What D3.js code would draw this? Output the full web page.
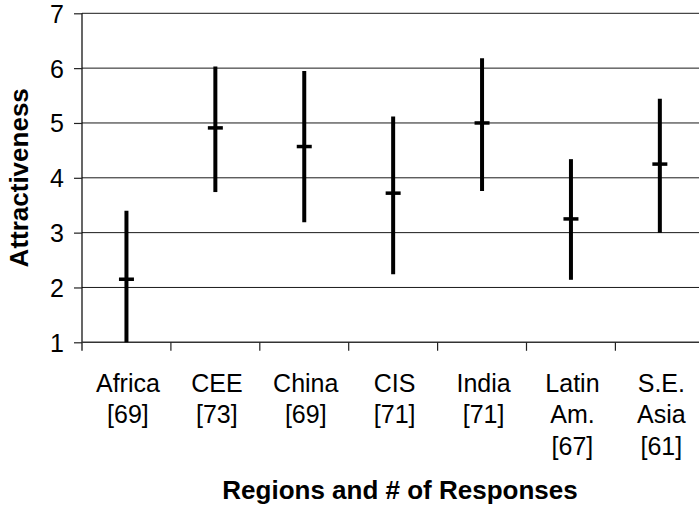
<!DOCTYPE html>
<html>
<head>
<meta charset="utf-8">
<script src="https://cdn.jsdelivr.net/npm/d3@7"></script>
<style>
  html, body { margin: 0; padding: 0; background: #fff; }
  svg { display: block; }
  text { font-family: Arial, "Liberation Sans", sans-serif; fill: #000; }
</style>
</head>
<body>
<svg id="chart" width="699" height="506"></svg>
<script>
// Regions surveyed, with the number of responses for each
const regions = ["Africa", "CEE", "China", "CIS", "India", "Latin Am.", "S.E. Asia"];
const regionLines = [["Africa"], ["CEE"], ["China"], ["CIS"], ["India"], ["Latin", "Am."], ["S.E.", "Asia"]];
const responses = [69, 73, 69, 71, 71, 67, 61];

// Attractiveness ratings: mean with upper and lower extent of each bar
const meanValues = [2.15, 4.91, 4.57, 3.72, 5.0, 3.25, 4.25];
const highValues = [3.40, 6.03, 5.95, 5.12, 6.18, 4.34, 5.44];
const lowValues  = [1.0, 3.74, 3.19, 2.24, 3.76, 2.14, 3.0];

const yTicks = [1, 2, 3, 4, 5, 6, 7];

const svg = d3.select("#chart");

const plotLeft = 82, plotTop = 13.3, plotBottom = 342.3, step = 88.9;
const x = d3.scaleBand().domain(regions).range([plotLeft, plotLeft + step * regions.length]).padding(0);
const y = d3.scaleLinear().domain([1, 7]).range([plotBottom, plotTop]);

// horizontal gridlines
svg.append("g")
  .selectAll("line")
  .data(yTicks.filter(t => t > 1))
  .join("line")
  .attr("x1", plotLeft).attr("x2", x.range()[1])
  .attr("y1", d => y(d)).attr("y2", d => y(d))
  .attr("stroke", "#1a1a1a").attr("stroke-width", 1);

// y axis
const yAxis = svg.append("g")
  .attr("transform", `translate(${plotLeft},0)`)
  .call(d3.axisLeft(y).tickValues(yTicks).tickFormat(d3.format("d")).tickSize(8).tickPadding(10));
yAxis.select(".domain").attr("stroke", "#000").attr("stroke-width", 1.2)
  .attr("d", `M0,${y(7)}V${plotBottom + 8.5}`);
yAxis.selectAll(".tick line").attr("stroke", "#222").attr("stroke-width", 1.2);
yAxis.selectAll(".tick text")
  .attr("font-size", 25).attr("font-family", "Arial, 'Liberation Sans', sans-serif")
  .attr("dy", "0.36em");

// x axis line with tick marks between categories
const xAxis = svg.append("g").attr("transform", `translate(0,${plotBottom})`);
xAxis.append("line")
  .attr("x1", plotLeft).attr("x2", x.range()[1])
  .attr("stroke", "#333").attr("stroke-width", 1.4);
xAxis.selectAll("line.sep")
  .data(regions.slice(1))
  .join("line")
  .attr("class", "sep")
  .attr("x1", d => x(d)).attr("x2", d => x(d))
  .attr("y1", 0).attr("y2", 8.5)
  .attr("stroke", "#222").attr("stroke-width", 1.2);

// category labels, several lines each
const labels = svg.append("g")
  .selectAll("text")
  .data(regions)
  .join("text")
  .attr("font-size", 25)
  .attr("text-anchor", "middle")
  .attr("transform", d => `translate(${x(d) + x.bandwidth() / 2 + 1.5},${plotBottom + 49.5})`);
labels.each(function (d, i) {
  const lines = regionLines[i].concat([`[${responses[i]}]`]);
  d3.select(this).selectAll("tspan")
    .data(lines)
    .join("tspan")
    .attr("x", 0)
    .attr("dy", (l, j) => j === 0 ? 0 : 31.7)
    .text(l => l);
});

// range bars
const bars = svg.append("g");
bars.selectAll("line.range")
  .data(regions)
  .join("line")
  .attr("class", "range")
  .attr("x1", d => x(d) + x.bandwidth() / 2)
  .attr("x2", d => x(d) + x.bandwidth() / 2)
  .attr("y1", (d, i) => y(highValues[i]))
  .attr("y2", (d, i) => y(lowValues[i]))
  .attr("stroke", "#000").attr("stroke-width", 4);

// mean markers
bars.selectAll("line.mean")
  .data(regions)
  .join("line")
  .attr("class", "mean")
  .attr("x1", d => x(d) + x.bandwidth() / 2 - 7.5)
  .attr("x2", d => x(d) + x.bandwidth() / 2 + 7.5)
  .attr("y1", (d, i) => y(meanValues[i]))
  .attr("y2", (d, i) => y(meanValues[i]))
  .attr("stroke", "#000").attr("stroke-width", 3.5);

// axis titles
svg.append("text")
  .attr("x", 400).attr("y", 499)
  .attr("text-anchor", "middle")
  .attr("font-size", 26).attr("font-weight", "bold")
  .text("Regions and # of Responses");

svg.append("text")
  .attr("transform", `translate(28,${(plotTop + plotBottom) / 2}) rotate(-90)`)
  .attr("text-anchor", "middle")
  .attr("font-size", 26).attr("font-weight", "bold")
  .text("Attractiveness");
</script>
</body>
</html>
